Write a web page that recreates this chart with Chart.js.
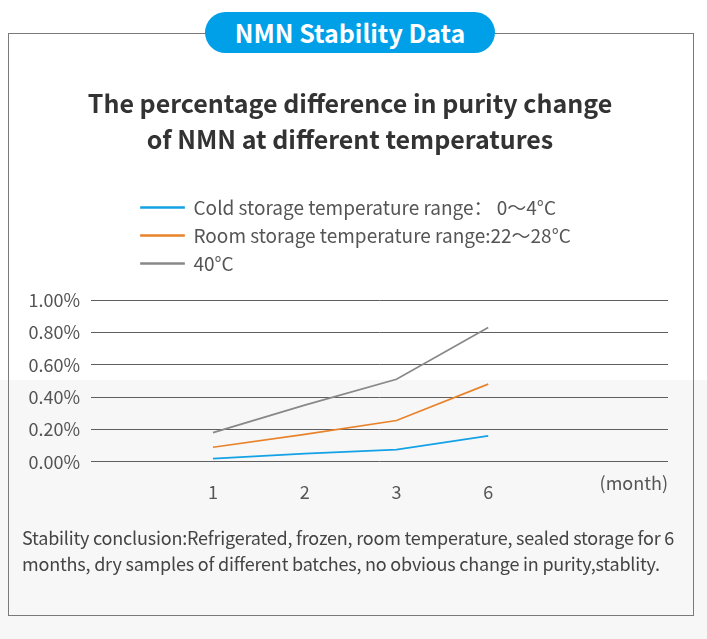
<!DOCTYPE html>
<html>
<head>
<meta charset="utf-8">
<script src="https://cdn.jsdelivr.net/npm/chart.js@4.4.1/dist/chart.umd.min.js"></script>
<style>
  html, body { margin: 0; padding: 0; }
  body {
    width: 707px; height: 639px; position: relative; overflow: hidden;
    background: linear-gradient(to bottom, #ffffff 0, #ffffff 380px, #f7f7f7 380px, #f7f7f7 100%);
    font-family: "Noto Sans CJK SC", "Noto Sans", sans-serif;
  }
  #frame {
    position: absolute; left: 8px; top: 33px; width: 686px; height: 583px;
    border: 1.5px solid #7a7a7a; box-sizing: border-box;
  }
  #pill {
    position: absolute; left: 205px; top: 12px; width: 290px; height: 41px;
    border-radius: 21px; background: #00a0e9; color: #fff;
    font-weight: bold; font-size: 25px; line-height: 41px; text-align: center;
  }
  #wrap { position: absolute; left: 0; top: 60px; width: 707px; height: 470px; }
  #note {
    position: absolute; left: 22px; top: 524px; width: 672px;
    font-size: 18px; line-height: 26px; color: #444; letter-spacing: -0.2px;
  }
</style>
</head>
<body>
<div id="frame"></div>
<div id="pill">NMN Stability Data</div>
<div id="wrap"><canvas id="chartStability"></canvas></div>
<div id="note">Stability conclusion:Refrigerated, frozen, room temperature, sealed storage for 6 months, dry samples of different batches, no obvious change in purity,stablity.</div>

<script>
// datos (en %)
const months = ['1', '2', '3', '6'];
const coldValues = [0.02, 0.05, 0.075, 0.16];
const roomValues = [0.09, 0.17, 0.255, 0.48];
const hotValues = [0.18, 0.35, 0.51, 0.83];
const yTicks = [0, 0.2, 0.4, 0.6, 0.8, 1.0];

const seriesNames = [
    'Cold storage temperature range\uFF1A 0\uFF5E4\u00B0C',
    'Room storage temperature range:22\uFF5E28\u00B0C',
    '40\u00B0C'
];

const FONT = '"Noto Sans CJK SC", "Noto Sans", sans-serif';

function toPoints(values) {
    return values.map((v, i) => ({ x: i + 1, y: v }));
}

// leyenda: una entrada por fila, movida a la izquierda y con hueco extra abajo
const legendTweak = {
    id: 'legendTweak',
    afterInit(chart) {
        const legend = chart.legend;
        const origFit = legend.fit;
        legend.fit = function () {
            const full = this.maxWidth;
            this.maxWidth = 460;
            origFit.call(this);
            this.maxWidth = full;
            this.width = full;
            this.height += 17;
        };
    },
    afterLayout(chart) {
        if (chart.legend) chart.legend.left = 132;
        // centrar el titulo en la caja, no en el area del grafico
        if (chart.titleBlock) {
            chart.titleBlock.left = 0;
            chart.titleBlock.right = 700;
        }
    }
};

const ctx = document.getElementById('chartStability').getContext('2d');

new Chart(ctx, {
    type: 'line',
    data: {
        datasets: [
            { label: seriesNames[0], data: toPoints(coldValues), borderColor: '#14a2e6', backgroundColor: '#14a2e6' },
            { label: seriesNames[1], data: toPoints(roomValues), borderColor: '#e8832b', backgroundColor: '#e8832b' },
            { label: seriesNames[2], data: toPoints(hotValues), borderColor: '#888888', backgroundColor: '#888888' }
        ]
    },
    options: {
        responsive: true,
        maintainAspectRatio: false,
        animation: false,
        elements: {
            line: { borderWidth: 1.7, tension: 0 },
            point: { radius: 0 }
        },
        layout: { padding: { left: 0, right: 39, top: 0, bottom: 27 } },
        plugins: {
            title: {
                display: true,
                text: ['The percentage difference in purity change', 'of NMN at different temperatures'],
                color: '#333',
                font: { family: FONT, size: 25, weight: 'bold', lineHeight: 1.44 },
                padding: { top: 25, bottom: 32 }
            },
            legend: {
                position: 'top',
                align: 'start',
                labels: {
                    color: '#555',
                    font: { family: FONT, size: 19 },
                    boxWidth: 43,
                    boxHeight: 1,
                    padding: 9
                }
            },
            tooltip: { enabled: false }
        },
        scales: {
            x: {
                type: 'linear',
                min: -0.33,
                max: 5.96,
                grid: { display: false, drawTicks: false },
                border: { display: false },
                afterBuildTicks: (scale) => {
                    scale.ticks = months.map((m, i) => ({ value: i + 1 }));
                },
                ticks: {
                    color: '#555',
                    font: { family: FONT, size: 18 },
                    padding: 20,
                    maxRotation: 0,
                    callback: (v) => months[v - 1]
                },
                title: {
                    display: true,
                    text: '(month)',
                    align: 'end',
                    color: '#555',
                    font: { family: FONT, size: 18 },
                    padding: { top: -51, bottom: 9 }
                }
            },
            y: {
                min: 0,
                max: 1,
                afterBuildTicks: (scale) => {
                    scale.ticks = yTicks.map(v => ({ value: v }));
                },
                afterFit: (scale) => { scale.width = 91; },
                grid: { color: '#5f5f5f', lineWidth: 1, drawTicks: false },
                border: { display: false },
                ticks: {
                    color: '#555',
                    font: { family: FONT, size: 18 },
                    padding: 11,
                    callback: (v) => v.toFixed(2) + '%'
                }
            }
        }
    },
    plugins: [legendTweak]
});
</script>
</body>
</html>
